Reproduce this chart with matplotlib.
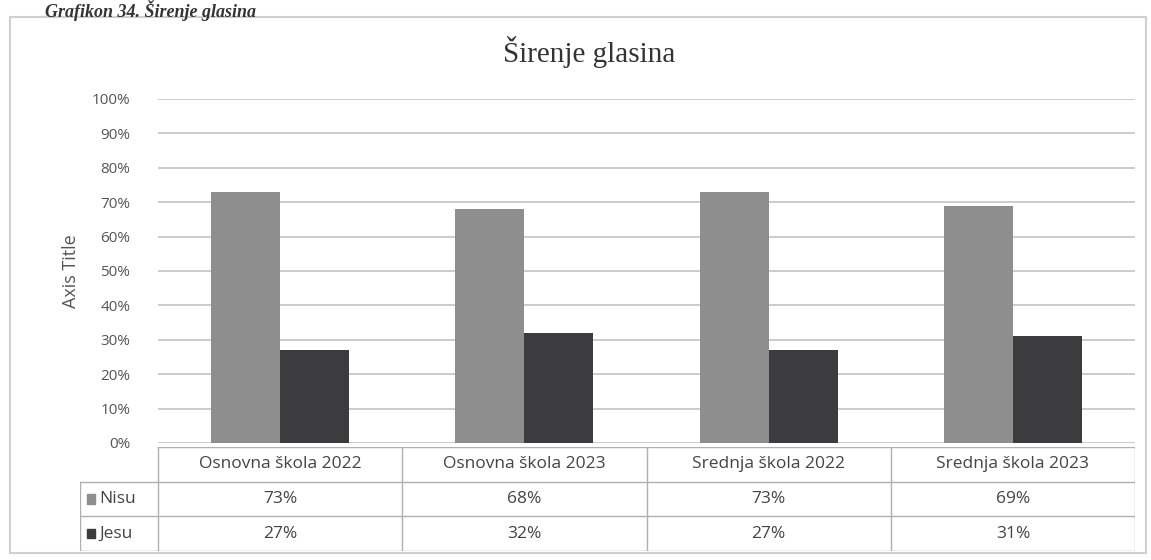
import matplotlib.pyplot as plt
import matplotlib.patches as patches

categories = ["Osnovna škola 2022", "Osnovna škola 2023", "Srednja škola 2022", "Srednja škola 2023"]
series_names = ["Nisu", "Jesu"]
nisu = [73, 68, 73, 69]
jesu = [27, 32, 27, 31]
y_ticks = [0, 10, 20, 30, 40, 50, 60, 70, 80, 90, 100]

colors = ["#8e8e8e", "#3c3c3e"]
grid_color = "#c4c4c4"
text_color = "#555555"

W, H = 1151, 560
fig = plt.figure(figsize=(W / 100, H / 100), dpi=100)


def fx(px):
    return px / W


def fy(py):
    return 1 - py / H


# caption at the top of the scan
fig.text(fx(45), fy(0), "Grafikon 34. Širenje glasina", family="Liberation Serif",
         style="italic", weight="bold", fontsize=13, color="#333333", va="top")

# outer chart border
fig.add_artist(patches.Rectangle((fx(10), fy(553)), fx(1146) - fx(10), fy(17) - fy(553),
                                 transform=fig.transFigure, fill=False,
                                 edgecolor="#d0d0d0", linewidth=1.5))

# main plot
ax = fig.add_axes([fx(158), fy(443), fx(1135) - fx(158), fy(99) - fy(443)])
x = list(range(len(categories)))
bw = 0.283
ax.bar([i - bw / 2 for i in x], nisu, bw, color=colors[0], zorder=3)
ax.bar([i + bw / 2 for i in x], jesu, bw, color=colors[1], zorder=3)
ax.set_xlim(-0.5, len(categories) - 0.5)
ax.set_ylim(0, 100)
ax.set_yticks(y_ticks)
ax.set_yticklabels([f"{t}%" for t in y_ticks], family="Open Sans", fontsize=11, color=text_color)
ax.tick_params(axis="y", length=0, pad=20)
ax.set_xticks([])
ax.grid(axis="y", color=grid_color, linewidth=1.2, zorder=0)
for s in ax.spines.values():
    s.set_visible(False)
ax.set_ylabel("Axis Title", family="Open Sans", fontsize=13, color=text_color, labelpad=8)

fig.text(fx(589), fy(52), "Širenje glasina", family="Liberation Serif", fontsize=21,
         color="#333333", ha="center", va="center")

# data table under the plot, sharing the category scale
lab_w = 78 / 244
tab = fig.add_axes([fx(80), fy(551), fx(1135) - fx(80), fy(447) - fy(551)])
tab.set_xlim(-0.5 - lab_w, len(categories) - 0.5)
tab.set_ylim(0, 3)
tab.axis("off")
lc = "#b0b0b0"
xr = len(categories) - 0.5
tab.plot([-0.5, xr], [3, 3], color=lc, lw=1)
for yy in [2, 1, 0]:
    tab.plot([-0.5 - lab_w, xr], [yy, yy], color=lc, lw=1)
for i in range(len(categories) + 1):
    tab.plot([i - 0.5, i - 0.5], [0, 3], color=lc, lw=1)
tab.plot([-0.5 - lab_w, -0.5 - lab_w], [0, 2], color=lc, lw=1)

fs = 12.5
for i, c in enumerate(categories):
    tab.text(i, 2.5, c, ha="center", va="center", family="Open Sans", fontsize=fs, color="#444444")
for r, (name, vals) in enumerate(zip(series_names, [nisu, jesu])):
    yc = 1.5 - r
    tab.add_patch(patches.Rectangle((-0.5 - lab_w + 0.03, yc - 0.13), 0.03, 0.26,
                                    color=colors[r]))
    tab.text(-0.5 - lab_w + 0.08, yc, name, ha="left", va="center", family="Open Sans",
             fontsize=fs, color="#444444")
    for i, v in enumerate(vals):
        tab.text(i, yc, f"{v}%", ha="center", va="center", family="Open Sans",
                 fontsize=fs, color="#444444")

fig.savefig("out.png", dpi=100, facecolor="white")
